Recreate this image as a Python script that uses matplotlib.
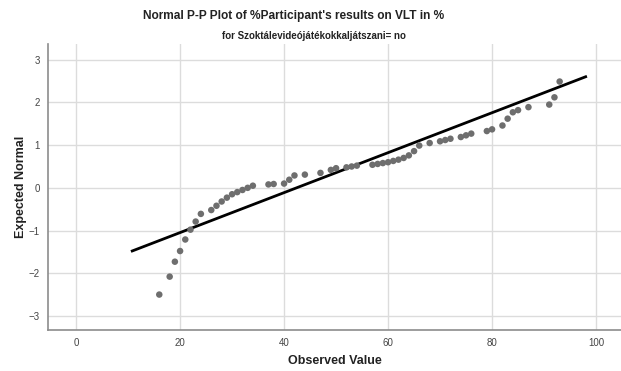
import matplotlib
matplotlib.use("Agg")
import matplotlib.pyplot as plt
import numpy as np

plt.rcParams['font.family'] = ['Liberation Sans', 'DejaVu Sans']

# observed scores (%) and their expected normal values
observed = [16, 18, 19, 20, 21, 22, 23, 24, 26, 27, 28, 29, 30, 31, 32, 33,
            34, 37, 38, 40, 41, 42, 44, 47, 49, 50, 52, 53, 54, 57, 58, 59,
            60, 61, 62, 63, 64, 65, 66, 68, 70, 71, 72, 74, 75, 76, 79, 80,
            82, 83, 84, 85, 87, 91, 92, 93]
expected = [-2.50, -2.08, -1.73, -1.48, -1.21, -0.98, -0.79, -0.61, -0.52,
            -0.42, -0.32, -0.23, -0.15, -0.10, -0.05, 0.00, 0.05, 0.08, 0.09,
            0.10, 0.19, 0.29, 0.31, 0.35, 0.42, 0.46, 0.48, 0.50, 0.52, 0.54,
            0.56, 0.58, 0.60, 0.63, 0.66, 0.70, 0.76, 0.86, 0.99, 1.05, 1.09,
            1.12, 1.15, 1.19, 1.23, 1.27, 1.33, 1.37, 1.46, 1.62, 1.77, 1.82,
            1.89, 1.95, 2.12, 2.49]

# reference line of the normal distribution
mean = 42.4
sd = 21.37
line_x = [10.8, 98.0]

xticks = [0, 20, 40, 60, 80, 100]
yticks = [-3, -2, -1, 0, 1, 2, 3]

fig = plt.figure(figsize=(6.21, 3.71), dpi=100)
ax = fig.add_axes([0.0773, 0.1105, 0.9227, 0.771])

line_x = np.array(line_x)
ax.plot(line_x, (line_x - mean) / sd, color="black", lw=2.0, zorder=3)
ax.scatter(observed, expected, s=22, color="#6e6e6e", edgecolors="none",
           zorder=4)

ax.set_xlim(-5.4, 104.8)
ax.set_ylim(-3.33, 3.37)
ax.set_xticks(xticks)
ax.set_yticks(yticks)
ax.grid(True, color="#dcdcdc", lw=1.0)
ax.set_axisbelow(True)
for side in ("top", "right"):
    ax.spines[side].set_visible(False)
for side in ("left", "bottom"):
    ax.spines[side].set_color("#8c8c8c")
    ax.spines[side].set_linewidth(1.2)
ax.tick_params(length=0, labelsize=7, colors="#444444", pad=6)

ax.set_xlabel("Observed Value", fontsize=9, fontweight="bold",
              color="#222222", labelpad=5)
ax.set_ylabel("Expected Normal", fontsize=9, fontweight="bold",
              color="#222222", labelpad=1)

fig.text(294 / 621, 1 - 16 / 371,
         "Normal P-P Plot of %Participant's results on VLT in %",
         ha="center", va="center", fontsize=8.6, fontweight="bold",
         color="#222222")
fig.text(314 / 621, 1 - 36 / 371, "for Szoktálevideójátékokkaljátszani= no",
         ha="center", va="center", fontsize=7, fontweight="bold",
         color="#222222")

fig.savefig("out.png", dpi=100)
